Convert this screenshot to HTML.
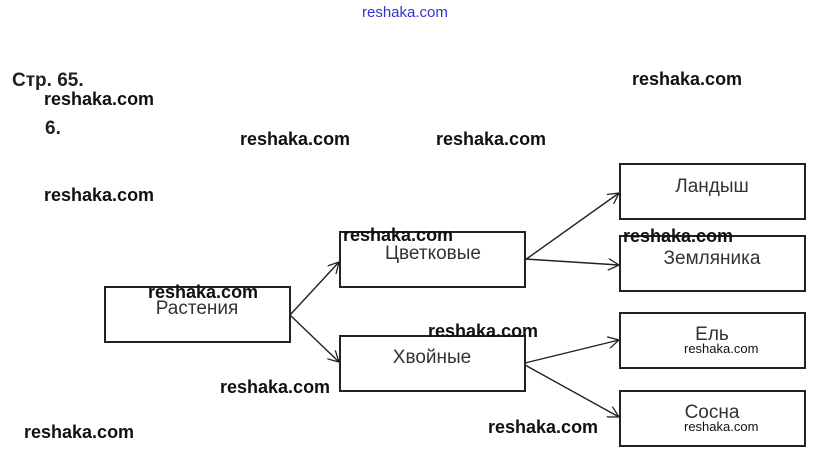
<!DOCTYPE html>
<html><head><meta charset="utf-8"><style>
html,body{margin:0;padding:0;background:#fff;width:819px;height:461px;overflow:hidden}
</style></head><body>
<svg width="819" height="461" xmlns="http://www.w3.org/2000/svg" style="display:block">
<defs><marker id="a" markerWidth="12" markerHeight="12" refX="11" refY="6" orient="auto" markerUnits="userSpaceOnUse"><path d="M0,0 L11,6 L0,12" fill="none" stroke="#222" stroke-width="1.3"/></marker></defs>
<g fill="#fff" stroke="#222" stroke-width="2">
<rect x="105" y="287" width="185" height="55"/>
<rect x="340" y="232" width="185" height="55"/>
<rect x="340" y="336" width="185" height="55"/>
<rect x="620" y="164" width="185" height="55"/>
<rect x="620" y="236" width="185" height="55"/>
<rect x="620" y="313" width="185" height="55"/>
<rect x="620" y="391" width="185" height="55"/>
</g>
<g stroke="#222" stroke-width="1.4" fill="none" marker-end="url(#a)">
<line x1="290" y1="315" x2="339" y2="262"/>
<line x1="290" y1="315" x2="339" y2="362"/>
<line x1="525" y1="260" x2="619" y2="193"/>
<line x1="525" y1="259" x2="619" y2="265"/>
<line x1="525" y1="363" x2="619" y2="340"/>
<line x1="525" y1="365" x2="619" y2="417"/>
</g>
<g font-family="Liberation Sans, DejaVu Sans, sans-serif" font-size="19" fill="#333" text-anchor="middle">
<text x="197" y="314">Растения</text>
<text x="433" y="259">Цветковые</text>
<text x="432" y="363">Хвойные</text>
<text x="712" y="192">Ландыш</text>
<text x="712" y="264">Земляника</text>
<text x="712" y="340">Ель</text>
<text x="712" y="418">Сосна</text>
</g>
<text x="362" y="17" font-family="Liberation Sans, sans-serif" font-size="15" fill="#3333cc">reshaka.com</text>
<text x="12" y="86" font-family="Liberation Sans, sans-serif" font-size="19" font-weight="bold" fill="#222">Стр. 65.</text>
<text x="45" y="134" font-family="Liberation Sans, sans-serif" font-size="19" font-weight="bold" fill="#222">6.</text>
<g font-family="Liberation Sans, sans-serif" font-size="18" font-weight="bold" fill="#111">
<text x="632" y="85">reshaka.com</text>
<text x="44" y="105">reshaka.com</text>
<text x="240" y="145">reshaka.com</text>
<text x="436" y="145">reshaka.com</text>
<text x="44" y="201">reshaka.com</text>
<text x="343" y="241">reshaka.com</text>
<text x="623" y="242">reshaka.com</text>
<text x="148" y="298">reshaka.com</text>
<text x="428" y="337">reshaka.com</text>
<text x="220" y="393">reshaka.com</text>
<text x="24" y="438">reshaka.com</text>
<text x="488" y="433">reshaka.com</text>
</g>
<g font-family="Liberation Sans Narrow, Liberation Sans, sans-serif" font-size="13" fill="#111">
<text x="684" y="353">reshaka.com</text>
<text x="684" y="431">reshaka.com</text>
</g>
</svg>
</body></html>
